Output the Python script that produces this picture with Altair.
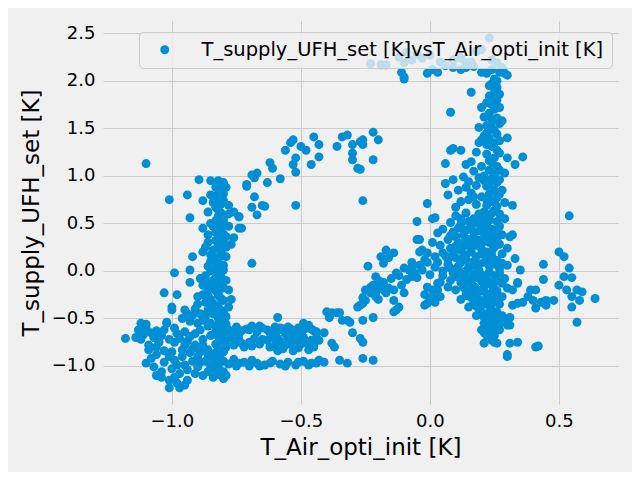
import altair as alt
import pandas as pd

SERIES = "T_supply_UFH_set [K]vsT_Air_opti_init [K]"

# (T_Air_opti_init, T_supply_UFH_set) pairs, grouped by region
left_outliers = [
    (-1.10, 1.13), (-1.01, 0.75), (-0.94, 0.80), (-0.895, 0.96), (-0.85, 0.95), (-0.88, 0.74),
    (-0.93, 0.56), (-0.88, 0.45), (-0.88, 0.20), (-0.92, 0.15), (-0.93, 0.01), (-0.99, -0.02),
    (-0.93, -0.12), (-1.03, -0.23), (-0.98, -0.25), (-1.00, -0.41), (-1.02, -0.55), (-1.10, -0.56),
    (-1.18, -0.71), (-0.69, 0.08), (-0.78, -0.20), (-0.52, 0.69),
]

left_column = [
    (-0.82, 0.95), (-0.81, 0.91), (-0.82, 0.86), (-0.80, 0.81), (-0.82, 0.76), (-0.81, 0.70),
    (-0.83, 0.67), (-0.81, 0.61), (-0.82, 0.58), (-0.80, 0.52), (-0.82, 0.49), (-0.81, 0.43),
    (-0.83, 0.41), (-0.82, 0.34), (-0.80, 0.30), (-0.82, 0.27), (-0.84, 0.22), (-0.81, 0.19),
    (-0.83, 0.14), (-0.82, 0.12), (-0.80, 0.06), (-0.83, 0.03), (-0.82, -0.02), (-0.81, -0.05),
    (-0.84, -0.10), (-0.82, -0.13), (-0.80, -0.18), (-0.83, -0.21), (-0.82, -0.26), (-0.81, -0.29),
    (-0.84, -0.34), (-0.82, -0.37), (-0.80, -0.42), (-0.83, -0.45), (-0.82, -0.50), (-0.81, -0.53),
    (-0.83, -0.58), (-0.82, -0.61), (-0.80, -0.66), (-0.82, -0.69), (-0.81, -0.74), (-0.83, -0.77),
    (-0.82, -0.82), (-0.80, -0.85), (-0.82, -0.90), (-0.81, -0.93), (-0.83, -0.98), (-0.82, -1.01),
    (-0.80, -1.06), (-0.82, -1.09), (-0.80, -1.13),
    (-0.78, 0.69), (-0.76, 0.62), (-0.74, 0.57), (-0.74, 0.45), (-0.76, 0.35), (-0.79, 0.36),
    (-0.86, 0.62), (-0.85, 0.50), (-0.86, 0.30), (-0.85, 0.10), (-0.84, 0.72), (-0.85, 0.80),
    (-0.79, 0.88), (-0.78, 0.47), (-0.77, 0.28), (-0.79, 0.15), (-0.87, 0.25), (-0.86, 0.38),
    (-0.86, 0.05),
    (-0.80, 0.93), (-0.83, 0.88), (-0.81, 0.83), (-0.83, 0.79), (-0.80, 0.74), (-0.82, 0.64),
    (-0.80, 0.56), (-0.83, 0.53), (-0.81, 0.46), (-0.80, 0.39), (-0.83, 0.32), (-0.81, 0.24),
    (-0.80, 0.16), (-0.82, 0.08), (-0.80, 0.01), (-0.83, -0.07), (-0.81, -0.15), (-0.82, -0.23),
    (-0.80, -0.31), (-0.83, -0.40), (-0.81, -0.47), (-0.80, -0.55), (-0.83, -0.63), (-0.81, -0.71),
    (-0.83, -0.86), (-0.80, -0.95), (-0.82, -1.04), (-0.84, -1.12), (-0.79, -1.10), (-0.79, -0.80),
    (-0.79, -0.56), (-0.78, 0.60), (-0.79, 0.25), (-0.84, 0.47), (-0.85, 0.17),
]

left_spread = [
    (-0.90, -0.27), (-0.86, -0.41), (-0.79, -0.48), (-0.95, -0.41), (-1.00, -0.38), (-0.88, -0.15),
    (-0.86, -0.20), (-0.90, -0.35), (-0.92, -0.47), (-0.88, -0.52), (-0.85, -0.30), (-0.87, -0.05),
    (-0.85, 0.00), (-0.86, -0.58), (-0.93, -0.53), (-0.96, -0.50), (-0.89, -0.45), (-0.84, -0.45),
    (-0.78, -0.38), (-0.79, -0.10), (-0.77, -0.30),
    (-0.87, -0.33), (-0.85, -0.38), (-0.88, -0.25), (-0.86, -0.12), (-0.87, -0.48), (-0.85, -0.55),
    (-0.91, -0.40), (-0.94, -0.45), (-0.90, -0.55), (-0.86, -0.26), (-0.84, -0.18), (-0.89, -0.08),
]

left_bottom = [
    (-1.12, -0.55), (-1.02, -0.54), (-1.11, -0.67), (-1.09, -0.83), (-1.10, -0.97), (-1.05, -0.75),
    (-1.04, -1.06), (-1.01, -1.15), (-1.01, -1.23), (-0.97, -1.23), (-0.99, -0.94), (-0.96, -0.83),
    (-0.99, -0.75), (-0.94, -1.15), (-0.90, -1.01), (-0.93, -0.69), (-0.89, -0.62), (-0.83, -1.04),
    (-0.80, -1.13), (-0.86, -0.83), (-1.13, -0.62), (-1.08, -0.65), (-1.07, -0.70), (-1.12, -0.72),
    (-1.06, -0.88), (-1.08, -0.92), (-1.03, -0.96), (-1.00, -1.03), (-0.97, -1.08), (-0.95, -0.99),
    (-0.96, -0.90), (-0.93, -0.86), (-0.91, -0.78), (-0.88, -0.72), (-0.87, -0.95), (-0.86, -1.06),
    (-0.92, -0.95), (-0.98, -0.66), (-1.03, -0.62), (-1.00, -0.85), (-0.94, -0.74), (-0.90, -0.90),
    (-0.88, -1.10), (-0.85, -0.68), (-0.84, -0.92), (-0.98, -1.18), (-1.06, -1.10), (-1.09, -0.78),
    (-1.14, -0.70),
    (-1.10, -0.60), (-1.06, -0.63), (-1.04, -0.68), (-1.01, -0.72), (-0.97, -0.71), (-0.95, -0.78),
    (-0.92, -0.82), (-0.89, -0.85), (-0.86, -0.88), (-0.88, -0.78), (-0.91, -0.66), (-0.95, -0.64),
    (-0.99, -0.60), (-1.06, -0.80), (-1.03, -0.84), (-1.01, -0.90), (-0.98, -0.99), (-0.94, -1.04),
    (-0.91, -1.08), (-0.85, -1.00), (-0.89, -0.96), (-1.07, -1.01), (-1.04, -1.12), (-0.95, -1.20),
    (-0.99, -1.12),
]

bottom_bands = [
    (-0.79, -0.60), (-0.77, -0.64), (-0.75, -0.59), (-0.73, -0.63), (-0.71, -0.61), (-0.69, -0.58),
    (-0.67, -0.64), (-0.65, -0.60), (-0.63, -0.62), (-0.60, -0.59), (-0.59, -0.63), (-0.57, -0.61),
    (-0.55, -0.59), (-0.53, -0.63), (-0.51, -0.60), (-0.49, -0.62), (-0.47, -0.60), (-0.45, -0.63),
    (-0.44, -0.64), (-0.41, -0.65), (-0.59, -0.49), (-0.49, -0.55), (-0.47, -0.57),
    (-0.79, -0.74), (-0.76, -0.78), (-0.74, -0.72), (-0.72, -0.80), (-0.70, -0.75), (-0.68, -0.71),
    (-0.66, -0.77), (-0.63, -0.73), (-0.61, -0.70), (-0.60, -0.78), (-0.58, -0.74), (-0.57, -0.82),
    (-0.55, -0.70), (-0.54, -0.77), (-0.52, -0.73), (-0.51, -0.81), (-0.49, -0.70), (-0.48, -0.76),
    (-0.46, -0.73), (-0.45, -0.80), (-0.44, -0.70), (-0.38, -0.76), (-0.37, -0.80), (-0.56, -0.66),
    (-0.50, -0.66),
    (-0.78, -0.98), (-0.75, -1.00), (-0.72, -0.96), (-0.70, -1.00), (-0.67, -0.97), (-0.64, -0.99),
    (-0.61, -0.95), (-0.58, -0.98), (-0.55, -0.96), (-0.52, -0.99), (-0.49, -0.95), (-0.46, -0.97),
    (-0.43, -0.94), (-0.41, -0.96), (-0.35, -0.94), (-0.32, -0.97), (-0.26, -0.92), (-0.22, -0.94),
    (-0.76, -0.93), (-0.69, -0.94),
    (-0.78, -0.62), (-0.74, -0.66), (-0.70, -0.62), (-0.66, -0.58), (-0.62, -0.65), (-0.58, -0.60),
    (-0.54, -0.61), (-0.50, -0.63), (-0.46, -0.61), (-0.77, -0.70), (-0.73, -0.76), (-0.69, -0.79),
    (-0.65, -0.72), (-0.62, -0.80), (-0.59, -0.84), (-0.56, -0.78), (-0.53, -0.84), (-0.50, -0.77),
    (-0.47, -0.83), (-0.45, -0.76), (-0.43, -0.73), (-0.53, -0.69), (-0.59, -0.71), (-0.74, -0.97),
    (-0.66, -1.00), (-0.62, -0.97), (-0.56, -1.00), (-0.51, -0.96), (-0.47, -0.99), (-0.44, -0.97),
]

rising_band = [
    (-0.40, -0.43), (-0.38, -0.44), (-0.35, -0.44), (-0.34, -0.52), (-0.31, -0.54), (-0.30, -0.65),
    (-0.27, -0.71), (-0.26, -0.75), (-0.27, -0.36), (-0.26, -0.28), (-0.23, -0.23), (-0.21, -0.20),
    (-0.18, -0.17), (-0.14, -0.20), (-0.14, -0.31), (-0.14, -0.43), (-0.22, -0.49), (-0.26, -0.52),
    (-0.36, -0.44), (-0.32, -0.52), (-0.39, -0.49), (-0.28, -0.38), (-0.26, -0.34), (-0.25, -0.31),
    (-0.23, -0.17), (-0.19, -0.12), (-0.18, -0.20), (-0.21, -0.27), (-0.16, -0.18), (-0.22, -0.15),
    (-0.19, -0.17), (-0.18, -0.12), (-0.23, -0.22), (-0.21, -0.23), (-0.17, -0.23), (-0.24, 0.05),
    (-0.21, -0.06), (-0.17, 0.22), (-0.14, 0.19), (-0.19, 0.15), (-0.16, 0.14), (-0.18, 0.08),
    (-0.13, -0.02), (-0.10, 0.03), (-0.08, 0.01), (-0.06, -0.02), (-0.09, -0.09), (-0.10, -0.23),
    (-0.13, -0.41), (-0.12, -0.38), (-0.05, 0.52), (-0.05, 0.33), (-0.04, 0.20), (-0.07, 0.09),
    (-0.03, 0.01), (-0.05, -0.07), (-0.04, 0.06), (-0.01, 0.09), (-0.03, 0.22), (-0.01, 0.19),
    (0.02, 0.56), (-0.01, 0.71), (0.01, 0.55), (-0.04, 0.33),
    (-0.01, -0.17), (0.00, -0.31), (-0.02, -0.36), (0.03, -0.20), (0.04, -0.12), (0.01, -0.27),
    (0.00, -0.04), (0.02, 0.04), (0.05, 0.19), (0.03, -0.13), (0.01, -0.20), (-0.01, -0.34),
    (0.04, -0.27), (0.07, -0.17), (-0.02, -0.25), (0.02, -0.33), (0.05, -0.05),
    (-0.20, -0.10), (-0.15, -0.08), (-0.12, -0.05), (-0.07, 0.04), (-0.02, 0.12), (0.02, 0.15),
    (-0.11, -0.15), (-0.07, -0.06), (-0.25, -0.20), (-0.20, -0.30), (0.01, 0.30), (0.03, 0.40),
]

arc = [
    (-0.74, 0.57), (-0.73, 0.45), (-0.71, 0.89), (-0.68, 0.78), (-0.69, 0.67), (-0.67, 0.59),
    (-0.64, 0.68), (-0.68, 0.98), (-0.67, 1.03), (-0.63, 0.93), (-0.62, 1.14), (-0.61, 1.08),
    (-0.58, 0.97), (-0.56, 1.27), (-0.54, 1.35), (-0.53, 1.38), (-0.52, 1.19), (-0.53, 1.12),
    (-0.52, 1.04), (-0.50, 1.31), (-0.48, 1.27), (-0.45, 1.41), (-0.43, 1.33), (-0.43, 1.20),
    (-0.46, 1.12), (-0.36, 1.31), (-0.34, 1.41), (-0.32, 1.43), (-0.30, 1.33), (-0.30, 1.24),
    (-0.30, 1.17), (-0.27, 1.36), (-0.26, 1.33), (-0.27, 1.07), (-0.22, 1.46), (-0.20, 1.38),
    (-0.22, 1.17), (-0.26, 0.74), (-0.69, 1.01), (-0.71, 0.91), (-0.65, 0.69), (-0.26, 1.38),
    (-0.28, 1.08),
]

top_band = [
    (-0.23, 2.18), (-0.17, 2.17), (-0.10, 2.19), (-0.07, 2.22), (-0.03, 2.24), (0.00, 2.27),
    (0.04, 2.20), (0.09, 2.22), (0.12, 2.24), (0.14, 2.19), (0.18, 2.31), (0.20, 2.33),
    (0.24, 2.22), (0.26, 2.19), (0.23, 2.45), (-0.11, 2.09), (-0.10, 2.04), (-0.10, 2.02),
    (-0.01, 2.08), (0.01, 2.12), (0.03, 2.09), (0.09, 2.14), (0.12, 2.12), (0.14, 2.14),
    (0.17, 2.15), (0.20, 2.09), (0.22, 2.08), (0.24, 2.12), (0.27, 2.09), (0.29, 2.08),
    (0.30, 2.06), (-0.19, 2.17), (0.06, 2.16), (0.16, 2.20), (0.28, 2.14), (-0.12, 2.25),
    (-0.09, 2.30), (-0.05, 2.28),
]

right_column = [
    (0.25, 2.02), (0.24, 1.97), (0.26, 1.93), (0.25, 1.88), (0.23, 1.84), (0.26, 1.80),
    (0.24, 1.75), (0.25, 1.70), (0.23, 1.66), (0.26, 1.61), (0.24, 1.57), (0.22, 1.53),
    (0.25, 1.48), (0.26, 1.44), (0.23, 1.40), (0.25, 1.35), (0.24, 1.31), (0.26, 1.27),
    (0.22, 1.23), (0.25, 1.19), (0.24, 1.14), (0.26, 1.10), (0.23, 1.06), (0.25, 1.02),
    (0.24, 0.97), (0.26, 0.93), (0.22, 0.89), (0.25, 0.85), (0.23, 0.81), (0.26, 0.77),
    (0.24, 0.73), (0.22, 0.69), (0.25, 0.64), (0.27, 0.60), (0.23, 0.56),
    (0.16, 1.88), (0.08, 1.67), (0.30, 1.40), (0.19, 1.51), (0.20, 1.38), (0.19, 1.35),
    (0.09, 1.29), (0.12, 1.27), (0.08, 1.27), (0.06, 1.13), (0.14, 1.12), (0.16, 1.15),
    (0.30, 1.19), (0.33, 1.12), (0.36, 1.20), (0.29, 1.03), (0.13, 0.99), (0.09, 0.96),
    (0.06, 0.92), (0.07, 0.80), (0.10, 0.67), (0.32, 0.69), (0.29, 0.72), (0.14, 0.88),
    (0.16, 0.82), (0.21, 1.62), (0.20, 1.72), (0.22, 1.45), (0.28, 1.58), (0.18, 1.25),
    (0.20, 1.10), (0.19, 0.98), (0.18, 0.90), (0.21, 0.95), (0.20, 0.78), (0.15, 0.75),
    (0.18, 0.70), (0.12, 0.73), (0.28, 0.85), (0.29, 0.55), (0.19, 0.60),
    (0.26, 2.00), (0.23, 1.95), (0.27, 1.86), (0.24, 1.82), (0.22, 1.77), (0.27, 1.72),
    (0.23, 1.63), (0.27, 1.55), (0.24, 1.50), (0.21, 1.42), (0.27, 1.37), (0.22, 1.33),
    (0.27, 1.24), (0.23, 1.16), (0.27, 1.06), (0.21, 1.00), (0.27, 0.96), (0.23, 0.91),
    (0.27, 0.81), (0.22, 0.75), (0.26, 0.68), (0.21, 0.62), (0.24, 0.61), (0.17, 1.05),
    (0.15, 0.94), (0.11, 0.85), (0.17, 0.78),
]

core = [
    (0.10, 0.58), (0.14, 0.61), (0.17, 0.55), (0.20, 0.57), (0.26, 0.52), (0.08, 0.51),
    (0.12, 0.49), (0.22, 0.48), (0.16, 0.46), (0.19, 0.42), (0.24, 0.44), (0.27, 0.47),
    (0.05, 0.44), (0.09, 0.41), (0.13, 0.38), (0.17, 0.35), (0.21, 0.39), (0.25, 0.36),
    (0.28, 0.38), (0.07, 0.33), (0.11, 0.30), (0.15, 0.29), (0.19, 0.32), (0.23, 0.30),
    (0.27, 0.28), (0.04, 0.27), (0.08, 0.24), (0.12, 0.22), (0.16, 0.20), (0.20, 0.23),
    (0.24, 0.21), (0.28, 0.18), (0.06, 0.16), (0.10, 0.14), (0.14, 0.12), (0.18, 0.15),
    (0.22, 0.13), (0.26, 0.11), (0.03, 0.09), (0.07, 0.07), (0.11, 0.05), (0.15, 0.04),
    (0.19, 0.07), (0.23, 0.05), (0.27, 0.02), (0.05, 0.00), (0.09, -0.02), (0.13, -0.04),
    (0.17, -0.03), (0.21, -0.06), (0.25, -0.05), (0.29, -0.08), (0.08, -0.10), (0.12, -0.12),
    (0.16, -0.14), (0.20, -0.11), (0.24, -0.15), (0.28, -0.13), (0.10, -0.20), (0.14, -0.22),
    (0.18, -0.19), (0.22, -0.24), (0.26, -0.21), (0.12, -0.30), (0.16, -0.28), (0.20, -0.32),
    (0.24, -0.30), (0.28, -0.27), (0.15, -0.38), (0.19, -0.40), (0.23, -0.37), (0.27, -0.35),
    (0.18, -0.47), (0.22, -0.45), (0.25, -0.50), (0.21, -0.55), (0.24, -0.58), (0.20, -0.62),
    (0.21, -0.76), (0.24, -0.73), (0.26, -0.76), (0.30, -0.88), (0.31, -0.76), (0.34, -0.75),
    (0.27, -0.62), (0.30, -0.57), (0.30, -0.52), (0.22, -0.64), (0.41, -0.80), (0.42, -0.79),
    (0.30, -0.90), (0.21, -0.65), (0.26, -0.60), (0.31, -0.49), (0.31, -0.57), (0.25, -0.75),
    (0.12, 0.55), (0.18, 0.51), (0.23, 0.53), (0.14, 0.43), (0.20, 0.46), (0.26, 0.41),
    (0.10, 0.36), (0.16, 0.33), (0.22, 0.35), (0.13, 0.26), (0.18, 0.27), (0.25, 0.25),
    (0.09, 0.19), (0.14, 0.17), (0.20, 0.18), (0.24, 0.16), (0.12, 0.09), (0.17, 0.10),
    (0.21, 0.09), (0.25, 0.07), (0.08, 0.03), (0.14, 0.00), (0.19, 0.01), (0.23, -0.01),
    (0.10, -0.06), (0.15, -0.08), (0.22, -0.09), (0.26, -0.10), (0.13, -0.17), (0.17, -0.16),
    (0.21, -0.17), (0.25, -0.18), (0.14, -0.26), (0.18, -0.24), (0.22, -0.28), (0.26, -0.26),
    (0.17, -0.33), (0.21, -0.35), (0.25, -0.33), (0.20, -0.43), (0.24, -0.41), (0.23, -0.52),
    (0.22, -0.68), (0.24, -0.65), (0.23, -0.47),
    (0.15, 0.52), (0.21, 0.51), (0.11, 0.45), (0.17, 0.40), (0.23, 0.42), (0.08, 0.37),
    (0.14, 0.34), (0.20, 0.28), (0.26, 0.32), (0.10, 0.26), (0.16, 0.24), (0.22, 0.20),
    (0.07, 0.12), (0.13, 0.15), (0.17, 0.06), (0.24, 0.10), (0.11, -0.01), (0.20, -0.04),
    (0.27, -0.02), (0.14, -0.10), (0.18, -0.07), (0.23, -0.12), (0.16, -0.20), (0.20, -0.21),
    (0.24, -0.23), (0.19, -0.30), (0.23, -0.33), (0.18, -0.37), (0.26, -0.43), (0.21, -0.49),
    (0.27, -0.55), (0.23, -0.60), (0.25, -0.68), (0.28, -0.47),
]

right_wing = [
    (0.50, 0.20), (0.52, 0.15), (0.54, 0.03), (0.52, -0.06), (0.50, -0.15), (0.55, -0.07),
    (0.57, -0.20), (0.59, -0.22), (0.58, -0.31), (0.55, -0.38), (0.57, -0.54), (0.64, -0.29),
    (0.55, -0.27), (0.53, -0.20), (0.54, 0.58), (0.44, 0.07), (0.44, -0.09), (0.41, -0.20),
    (0.39, -0.20), (0.38, -0.27), (0.40, -0.31), (0.43, -0.33), (0.45, -0.31), (0.48, -0.31),
    (0.45, -0.36), (0.41, -0.39), (0.36, -0.33), (0.34, -0.34), (0.32, -0.36), (0.32, -0.20),
    (0.34, -0.13), (0.30, -0.18), (0.33, 0.13), (0.35, 0.01), (0.30, 0.24), (0.31, 0.36),
    (0.28, 0.08), (0.30, 0.06), (0.32, 0.38), (0.34, -0.12),
]

groups = [left_outliers, left_column, left_spread, left_bottom, bottom_bands,
          rising_band, arc, top_band, right_column, core, right_wing]
rows = [{"x": px, "y": py, "series": SERIES} for g in groups for px, py in g]
df = pd.DataFrame(rows)

x_ticks = [-1.0, -0.5, 0.0, 0.5]
y_ticks = [-1.0, -0.5, 0.0, 0.5, 1.0, 1.5, 2.0, 2.5]

chart = (
    alt.Chart(df)
    .mark_circle(size=80, opacity=1)
    .encode(
        x=alt.X("x:Q", title="T_Air_opti_init [K]",
                scale=alt.Scale(domain=[-1.267, 0.729], nice=False, zero=False),
                axis=alt.Axis(values=x_ticks, format=".1f", titlePadding=6)),
        y=alt.Y("y:Q", title="T_supply_UFH_set [K]",
                scale=alt.Scale(domain=[-1.40, 2.63], nice=False, zero=False),
                axis=alt.Axis(values=y_ticks, format=".1f", titlePadding=8)),
        color=alt.Color("series:N", title=None,
                        scale=alt.Scale(range=["#008fd5"]),
                        legend=alt.Legend(orient="none", legendX=36, legendY=11,
                                          fillColor="rgba(240,240,240,0.8)",
                                          strokeColor="#cccccc", cornerRadius=4,
                                          padding=8, symbolOffset=8, labelOffset=27,
                                          symbolSize=80, symbolType="circle",
                                          symbolStrokeWidth=0,
                                          labelFontSize=19.5, labelColor="#000000",
                                          labelLimit=600)),
    )
    .properties(width=515, height=383,
                padding={"left": 95, "top": 13, "right": 14, "bottom": 68},
                autosize=alt.AutoSizeParams(type="none"))
    .configure(background="#f0f0f0", font="DejaVu Sans")
    .configure_view(stroke="transparent")
    .configure_axis(grid=True, gridColor="#cbcbcb", gridWidth=1, domain=False, ticks=False,
                    labelFontSize=18, titleFontSize=23, labelColor="#000000",
                    titleColor="#000000", titleFontWeight="normal", labelPadding=8)
)

chart.save("out.html", embed_options={"renderer": "svg", "actions": False})
